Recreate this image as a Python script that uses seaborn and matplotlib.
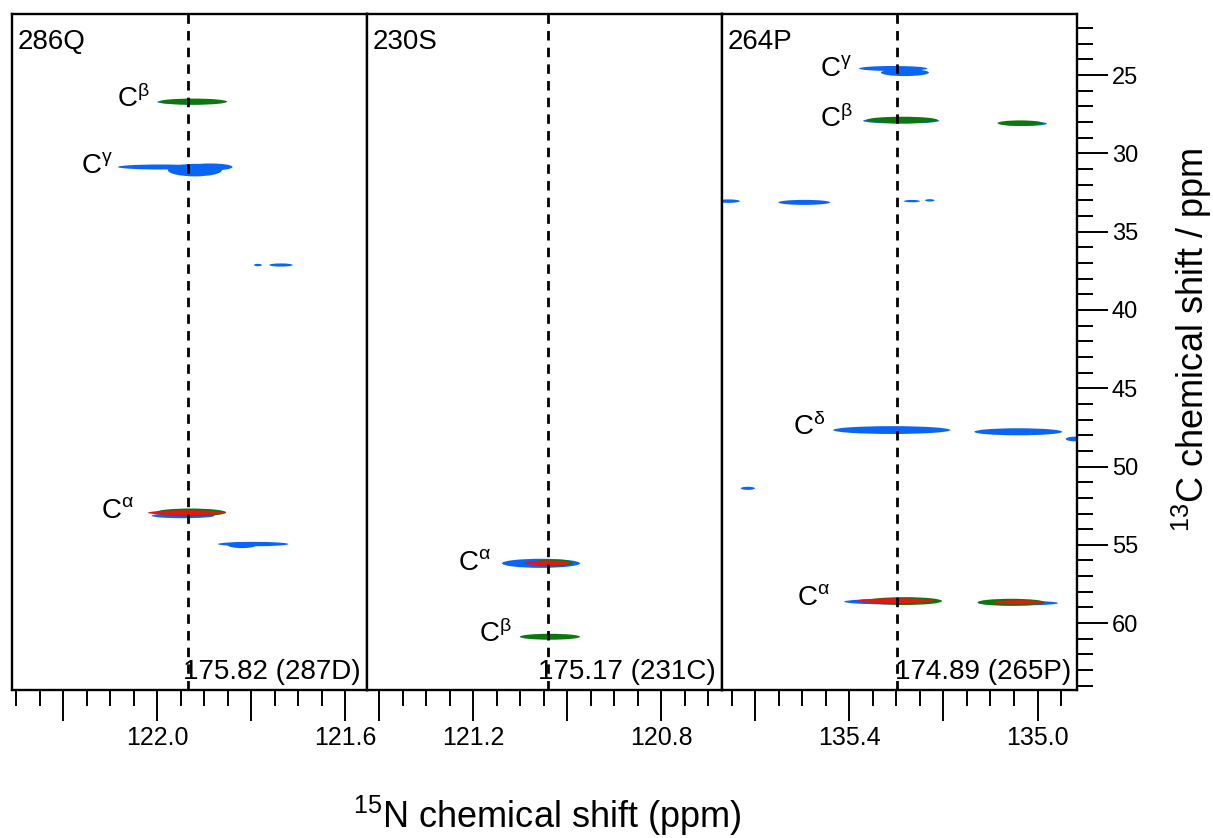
import numpy as np
import pandas as pd
import matplotlib
matplotlib.use("Agg")
import matplotlib.pyplot as plt
from matplotlib.patches import Ellipse
from matplotlib.ticker import MultipleLocator
import seaborn as sns

# ---------------- data ----------------
panel_names = ["286Q", "230S", "264P"]
panel_n_left = [122.309, 121.426, 135.671]
panel_n_right = [121.554, 120.671, 134.916]
c_top, c_bottom = 21.1, 64.27

ref_lines = [121.935, 121.042, 135.298]
ref_labels = ["175.82 (287D)", "175.17 (231C)", "174.89 (265P)"]
x_labeled_ticks = [[122.0, 121.6], [121.2, 120.8], [135.4, 135.0]]
y_ticks = [25, 30, 35, 40, 45, 50, 55, 60]

# peaks: panel, 15N centre, 13C centre, 15N width, 13C width, spectrum
peak_panel = [0, 0, 0, 0, 0, 0, 0, 0, 0, 0, 0, 0,
              1, 1, 1, 1,
              2, 2, 2, 2, 2, 2, 2, 2, 2, 2, 2, 2, 2, 2, 2, 2, 2, 2, 2, 2]
peak_n = [121.935, 121.924, 121.994, 121.920, 121.888, 121.786, 121.737,
          121.945, 121.929, 121.938, 121.796, 121.820,
          121.056, 121.030, 121.042, 121.037,
          135.307, 135.282, 135.290, 135.288, 135.030, 135.037,
          135.658, 135.496, 135.267, 135.229,
          135.310, 135.041, 134.920, 135.616,
          135.314, 135.283, 135.303, 135.041, 135.056, 135.041]
peak_c = [26.72, 26.70, 30.87, 31.07, 30.87, 37.13, 37.13,
          53.14, 52.93, 52.95, 54.95, 55.02,
          56.18, 56.16, 56.16, 60.87,
          24.58, 24.84, 27.92, 27.87, 28.10, 28.07,
          33.05, 33.13, 33.05, 33.00,
          47.67, 47.78, 48.24, 51.39,
          58.63, 58.59, 58.57, 58.72, 58.67, 58.67]
peak_wn = [0.13, 0.145, 0.18, 0.115, 0.096, 0.017, 0.05,
           0.134, 0.151, 0.164, 0.15, 0.06,
           0.166, 0.085, 0.096, 0.128,
           0.145, 0.102, 0.162, 0.151, 0.10, 0.096,
           0.05, 0.11, 0.034, 0.02,
           0.249, 0.187, 0.04, 0.03,
           0.194, 0.16, 0.162, 0.17, 0.143, 0.106]
peak_wc = [0.30, 0.40, 0.32, 0.80, 0.45, 0.15, 0.20,
           0.32, 0.50, 0.30, 0.28, 0.38,
           0.58, 0.45, 0.30, 0.38,
           0.32, 0.45, 0.36, 0.42, 0.30, 0.35,
           0.22, 0.32, 0.15, 0.15,
           0.50, 0.45, 0.30, 0.20,
           0.35, 0.50, 0.30, 0.30, 0.45, 0.25]
peak_spec = ["blue", "green", "blue", "blue", "blue", "blue", "blue",
             "blue", "green", "red", "blue", "blue",
             "blue", "green", "red", "green",
             "blue", "blue", "blue", "green", "blue", "green",
             "blue", "blue", "blue", "blue",
             "blue", "blue", "blue", "blue",
             "blue", "green", "red", "blue", "green", "red"]

# atom labels
label_panel = [0, 0, 0, 1, 1, 2, 2, 2, 2]
label_text = [r"C$^{\beta}$", r"C$^{\gamma}$", r"C$^{\alpha}$",
              r"C$^{\alpha}$", r"C$^{\beta}$",
              r"C$^{\gamma}$", r"C$^{\beta}$", r"C$^{\delta}$", r"C$^{\alpha}$"]
label_n = [122.016, 122.094, 122.050, 121.162, 121.118,
           135.394, 135.392, 135.452, 135.441]
label_c = [27.04, 31.26, 53.29, 56.61, 61.19,
           25.06, 28.30, 47.99, 58.84]

spec_colors = {"blue": "#0a64f5", "green": "#0b780b", "red": "#f01212"}
spec_order = {"blue": 0, "green": 1, "red": 2}

peaks = pd.DataFrame({"panel": peak_panel, "n": peak_n, "c": peak_c,
                      "wn": peak_wn, "wc": peak_wc, "spec": peak_spec})

# ---------------- style ----------------
sns.set_theme(style="ticks")
plt.rcParams["font.family"] = ["Liberation Sans", "DejaVu Sans"]
plt.rcParams["mathtext.fontset"] = "custom"
plt.rcParams["mathtext.rm"] = "Liberation Sans"
plt.rcParams["mathtext.it"] = "Liberation Sans"
plt.rcParams["mathtext.sf"] = "Liberation Sans"
plt.rcParams["mathtext.bf"] = "Liberation Sans:bold"
plt.rcParams["text.color"] = "black"
plt.rcParams["axes.edgecolor"] = "black"
plt.rcParams["xtick.color"] = "black"
plt.rcParams["ytick.color"] = "black"

fig = plt.figure(figsize=(12.13, 8.38), dpi=100)
L, B = 12 / 1213, 148 / 838
W, H = 355 / 1213, 676 / 838

for i, name in enumerate(panel_names):
    ax = fig.add_axes([L + i * W, B, W, H])
    ax.set_facecolor("white")
    ax.set_xlim(panel_n_left[i], panel_n_right[i])
    ax.set_ylim(c_bottom, c_top)
    for s in ax.spines.values():
        s.set_linewidth(1.7)
        s.set_color("black")

    sub = peaks[peaks["panel"] == i].copy()
    sub["order"] = sub["spec"].map(spec_order)
    sub = sub.sort_values("order", kind="stable")
    for _, r in sub.iterrows():
        e = Ellipse((r["n"], r["c"]), r["wn"], r["wc"],
                    facecolor=spec_colors[r["spec"]], edgecolor="none",
                    zorder=2 + r["order"])
        ax.add_patch(e)

    ax.axvline(ref_lines[i], color="black", lw=2.0,
               ls=(0, (3.4, 2.6)), zorder=6)

    ax.text(0.017, 0.978, name, transform=ax.transAxes, ha="left",
            va="top", fontsize=20)
    ax.text(0.983, 0.016, ref_labels[i], transform=ax.transAxes,
            ha="right", va="baseline", fontsize=20, zorder=7)

    for j in range(len(label_panel)):
        if label_panel[j] == i:
            ax.text(label_n[j], label_c[j], label_text[j], ha="right",
                    va="baseline", fontsize=20)

    # x ticks
    lo, hi = min(panel_n_left[i], panel_n_right[i]), max(panel_n_left[i], panel_n_right[i])
    majors = np.round(np.arange(np.ceil(lo / 0.2) * 0.2, hi, 0.2), 2)
    ax.set_xticks(majors)
    ax.set_xticklabels([f"{m:.1f}" if any(abs(m - v) < 1e-6 for v in x_labeled_ticks[i]) else ""
                        for m in majors])
    ax.xaxis.set_minor_locator(MultipleLocator(0.05))
    ax.tick_params(axis="x", which="major", direction="out", length=22,
                   width=1.4, labelsize=18, pad=4, bottom=True, top=False)
    ax.tick_params(axis="x", which="minor", direction="out", length=11.5,
                   width=1.4, bottom=True, top=False)

    if i < 2:
        ax.tick_params(axis="y", which="both", left=False, right=False,
                       labelleft=False, labelright=False)
    else:
        ax.yaxis.tick_right()
        ax.set_yticks(y_ticks)
        ax.set_yticklabels([str(v) for v in y_ticks])
        ax.yaxis.set_minor_locator(MultipleLocator(1))
        ax.tick_params(axis="y", which="major", direction="out", length=22,
                       width=1.4, labelsize=17, pad=3, left=False, right=True)
        ax.tick_params(axis="y", which="minor", direction="out", length=11.5,
                       width=1.4, left=False, right=True)

fig.text(547 / 1213, 1 - 816 / 838, r"$^{15}$N chemical shift (ppm)",
         ha="center", va="center", fontsize=26)
fig.text(1192 / 1213, 1 - 340 / 838, r"$^{13}$C chemical shift / ppm",
         ha="center", va="center", rotation=90, fontsize=26)

fig.savefig("out.png", dpi=100, facecolor="white")
